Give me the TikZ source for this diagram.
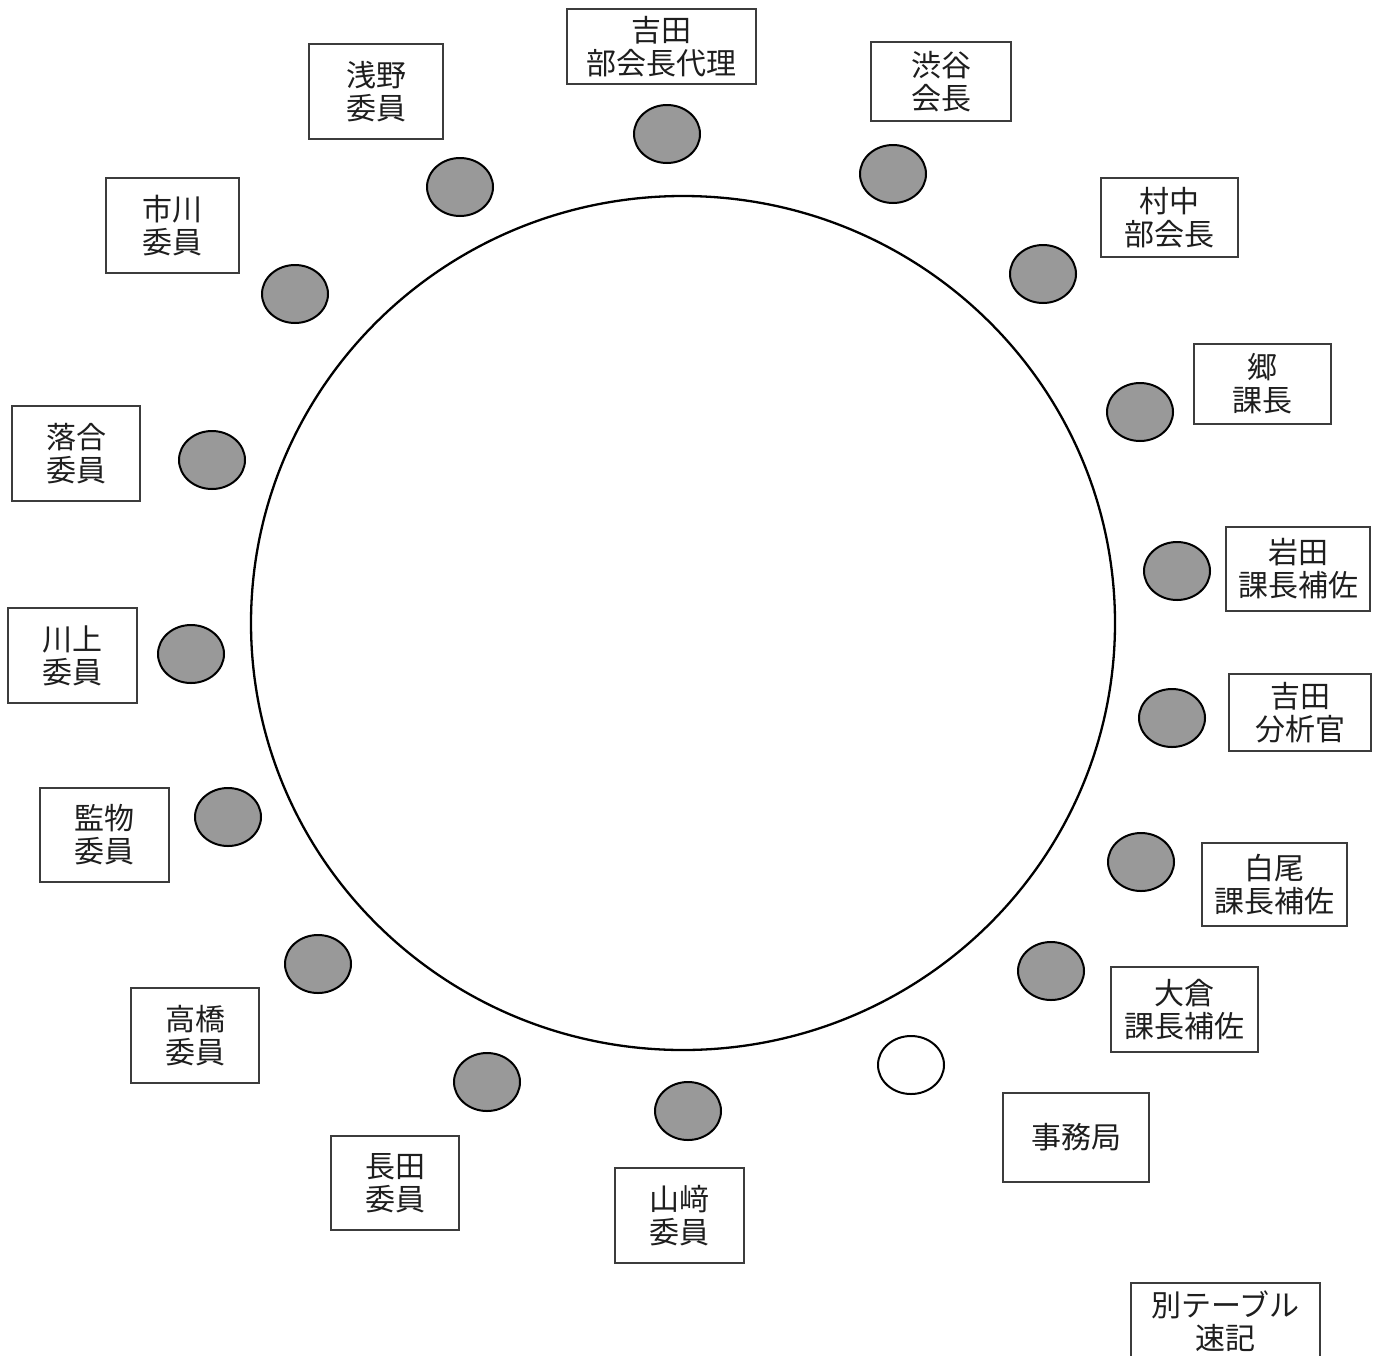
\documentclass[tikz,border=0pt]{standalone}
\usepackage{fontspec}
\newfontfamily\jpfont{Noto Sans CJK JP}
\usetikzlibrary{shapes.geometric}
\definecolor{seatfill}{RGB}{153,153,153}
\definecolor{boxline}{RGB}{60,60,60}
\definecolor{txt}{RGB}{30,30,30}
\tikzset{
  seat/.style={ellipse, draw=black, line width=2pt, fill=seatfill,
    minimum width=66pt, minimum height=58pt, inner sep=0pt},
  freeseat/.style={seat, fill=white},
  namebox/.style={rectangle, draw=boxline, line width=1.2pt, fill=white,
    text=txt, align=center, inner sep=0pt,
    font=\jpfont\fontsize{30pt}{33pt}\selectfont},
  tablestyle/.style={ellipse, draw=black, line width=2.3pt, inner sep=0pt,
    minimum width=864pt, minimum height=854pt}
}
\begin{document}
\begin{tikzpicture}[x=1pt,y=-1pt]
\useasboundingbox (0,0) rectangle (1381,1355);
\clip (0,0) rectangle (1381,1355);
\fill[white] (0,0) rectangle (1381,1355);
% table
\node[tablestyle] (table) at (683,623) {};
% seats
\node[seat] (s1) at (667,134) {};
\node[seat] (s2) at (893,174) {};
\node[seat] (s3) at (1043,274) {};
\node[seat] (s4) at (1140,412) {};
\node[seat] (s5) at (1177,571) {};
\node[seat] (s6) at (1172,718) {};
\node[seat] (s7) at (1141,862) {};
\node[seat] (s8) at (1051,971) {};
\node[freeseat] (s9) at (911,1065) {};
\node[seat] (s10) at (688,1111) {};
\node[seat] (s11) at (487,1082) {};
\node[seat] (s12) at (318,964) {};
\node[seat] (s13) at (228,817) {};
\node[seat] (s14) at (191,654) {};
\node[seat] (s15) at (212,460) {};
\node[seat] (s16) at (295,294) {};
\node[seat] (s17) at (460,187) {};
% name boxes
\node[namebox, minimum width=189pt, minimum height=75pt] (b1) at (661.5,46.5) {吉田\\部会長代理};
\node[namebox, minimum width=140pt, minimum height=79pt] (b2) at (941,81.5) {渋谷\\会長};
\node[namebox, minimum width=137pt, minimum height=79pt] (b3) at (1169.5,217.5) {村中\\部会長};
\node[namebox, minimum width=137pt, minimum height=80pt] (b4) at (1262.5,384) {郷\\課長};
\node[namebox, minimum width=144pt, minimum height=84pt] (b5) at (1298,569) {岩田\\課長補佐};
\node[namebox, minimum width=142pt, minimum height=77pt] (b6) at (1300,712.5) {吉田\\分析官};
\node[namebox, minimum width=145pt, minimum height=83pt] (b7) at (1274.5,884.5) {白尾\\課長補佐};
\node[namebox, minimum width=147pt, minimum height=85pt] (b8) at (1184.5,1009.5) {大倉\\課長補佐};
\node[namebox, minimum width=146pt, minimum height=89pt] (b9) at (1076,1137.5) {事務局};
\node[namebox, minimum width=129pt, minimum height=95pt] (b10) at (679.5,1215.5) {山﨑\\委員};
\node[namebox, minimum width=128pt, minimum height=94pt] (b11) at (395,1183) {長田\\委員};
\node[namebox, minimum width=128pt, minimum height=95pt] (b12) at (195,1035.5) {高橋\\委員};
\node[namebox, minimum width=129pt, minimum height=94pt] (b13) at (104.5,835) {監物\\委員};
\node[namebox, minimum width=129pt, minimum height=95pt] (b14) at (72.5,655.5) {川上\\委員};
\node[namebox, minimum width=128pt, minimum height=95pt] (b15) at (76,453.5) {落合\\委員};
\node[namebox, minimum width=133pt, minimum height=95pt] (b16) at (172.5,225.5) {市川\\委員};
\node[namebox, minimum width=134pt, minimum height=95pt] (b17) at (376,91.5) {浅野\\委員};
\node[namebox, minimum width=189pt, minimum height=76pt] (b18) at (1225.5,1321) {別テーブル\\速記};
\end{tikzpicture}
\end{document}
